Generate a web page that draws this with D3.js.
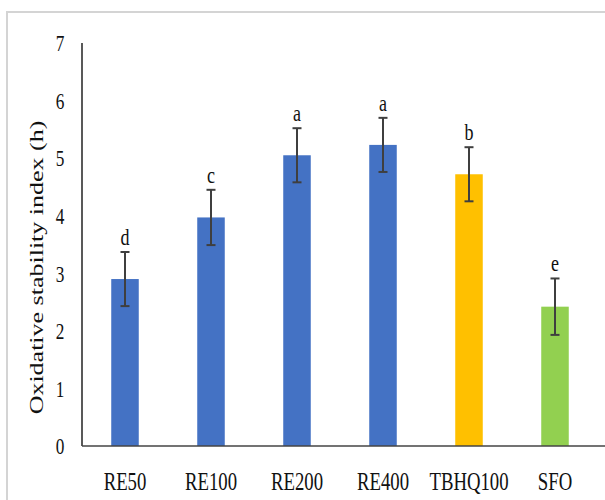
<!DOCTYPE html>
<html>
<head>
<meta charset="utf-8">
<script src="https://cdn.jsdelivr.net/npm/d3@7"></script>
<style>
  html, body { margin: 0; padding: 0; background: #ffffff; }
  svg { display: block; }
  text { font-family: "Liberation Serif", "Times New Roman", serif; fill: #111; }
</style>
</head>
<body>
<svg id="chart" width="605" height="500"></svg>
<script>
// ---- data ----
const categories = ["RE50", "RE100", "RE200", "RE400", "TBHQ100", "SFO"];
const values     = [2.90, 3.97, 5.05, 5.23, 4.72, 2.42];
const errors     = [0.47, 0.48, 0.47, 0.47, 0.47, 0.49];
const letters    = ["d", "c", "a", "a", "b", "e"];
const barColors  = ["#4472C4", "#4472C4", "#4472C4", "#4472C4", "#FFC000", "#92D050"];
const yTicks     = [0, 1, 2, 3, 4, 5, 6, 7];
const yTitle     = "Oxidative stability index (h)";

const svg = d3.select("#chart");
const SX = 0.75; // horizontal text compression seen in the reference

// frame
svg.append("rect")
  .attr("x", 7).attr("y", 12)
  .attr("width", 620).attr("height", 520)
  .attr("fill", "#ffffff")
  .attr("stroke", "#d4d4d4").attr("stroke-width", 2);

const mLeft = 82, mRight = 598, mTop = 43, mBottom = 446;

const x = d3.scaleBand().domain(categories).range([mLeft, mRight])
  .paddingInner(0.68).paddingOuter(0.34);
const y = d3.scaleLinear().domain([0, 7]).range([mBottom, mTop]);

// bars
svg.append("g").selectAll("rect").data(categories).join("rect")
  .attr("x", d => x(d))
  .attr("y", (d, i) => y(values[i]))
  .attr("width", x.bandwidth())
  .attr("height", (d, i) => y(0) - y(values[i]))
  .attr("fill", (d, i) => barColors[i]);

// error bars
const eg = svg.append("g").attr("stroke", "#3f3f3f").attr("stroke-width", 2).attr("fill", "none");
categories.forEach((c, i) => {
  const cx = x(c) + x.bandwidth() / 2;
  const hi = y(values[i] + errors[i]);
  const lo = y(values[i] - errors[i]);
  eg.append("line").attr("x1", cx).attr("x2", cx).attr("y1", hi).attr("y2", lo);
  eg.append("line").attr("x1", cx - 4.5).attr("x2", cx + 4.5).attr("y1", hi).attr("y2", hi);
  eg.append("line").attr("x1", cx - 4.5).attr("x2", cx + 4.5).attr("y1", lo).attr("y2", lo);
  // significance letters
  svg.append("text")
    .attr("text-anchor", "middle")
    .attr("font-size", 24)
    .attr("transform", `translate(${cx},${hi - 7}) scale(${SX},1)`)
    .text(letters[i]);
});

// y axis
const yAxis = svg.append("g").attr("transform", `translate(${mLeft},0)`)
  .call(d3.axisLeft(y).tickValues(yTicks).tickSize(0).tickFormat(d3.format("d")));
yAxis.select(".domain").remove();
yAxis.selectAll("text")
  .attr("font-family", null)
  .attr("font-size", 23)
  .attr("text-anchor", "middle")
  .attr("x", 0).attr("dy", "0.34em")
  .attr("transform", `translate(-22,0) scale(${SX},1)`)
  .style("fill", "#111");
svg.append("line").attr("x1", mLeft).attr("x2", mLeft).attr("y1", mTop).attr("y2", mBottom)
  .attr("stroke", "#222").attr("stroke-width", 1.5);

// x axis
const xAxis = svg.append("g").attr("transform", `translate(0,${mBottom})`)
  .call(d3.axisBottom(x).tickSize(0));
xAxis.select(".domain").remove();
xAxis.selectAll("text")
  .attr("font-family", null)
  .attr("font-size", 25)
  .attr("text-anchor", "middle")
  .attr("x", 0).attr("y", 0).attr("dy", 0)
  .attr("transform", `translate(0,44) scale(${SX},1)`)
  .style("fill", "#111");
svg.append("line").attr("x1", mLeft).attr("x2", 605).attr("y1", mBottom).attr("y2", mBottom)
  .attr("stroke", "#444").attr("stroke-width", 1.5);

// y title
svg.append("text")
  .attr("text-anchor", "middle")
  .attr("dominant-baseline", "central")
  .attr("font-size", 26)
  .attr("transform", `translate(37,${(mTop + mBottom) / 2 + 23}) scale(${SX},1) rotate(-90)`)
  .text(yTitle);
</script>
</body>
</html>
